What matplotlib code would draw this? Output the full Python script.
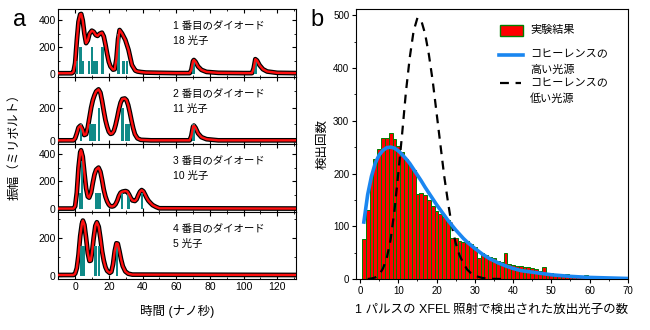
import matplotlib
matplotlib.use("Agg")
import matplotlib.pyplot as plt
from matplotlib.patches import Rectangle
from matplotlib.ticker import MultipleLocator

plt.rcParams["font.family"] = ["Liberation Sans", "Noto Sans CJK JP", "DejaVu Sans"]

# ---- panel a: diode traces (time ns, amplitude mV) ----
t1 = [-10, -2, -1, 0, 1, 2, 3, 3.6, 4.5, 5.5, 6.5, 7.5, 8.5, 9.9, 11, 12.3, 13.3, 14.5, 15.9, 17, 18, 19, 20, 21,
      22.5, 23.5, 24.5, 25.5, 26.4, 27.8, 29.8, 31.7, 33.7, 35.7, 37, 39, 42, 50, 60, 68, 69, 70, 70.5, 71.5, 73,
      75, 78, 85, 100, 105, 106, 107, 108, 109.5, 111.5, 114, 120, 131]
v1 = [5, 5, 15, 80, 250, 390, 445, 448, 400, 300, 230, 250, 300, 323, 315, 290, 284, 300, 308, 280, 220, 150, 90, 55,
      32, 35, 110, 260, 328, 303, 254, 180, 67, 25, 18, 14, 10, 8, 6, 6, 30, 95, 104, 90, 55,
      30, 15, 8, 6, 6, 40, 110, 100, 65, 35, 18, 8, 6]
t2 = [-10, -1, 0, 1, 2, 3.2, 4.3, 5.4, 6.5, 7.5, 8.5, 9.5, 10.5, 11.5, 12.5, 13.9, 15, 16, 17, 18, 19, 20, 21, 22,
      23, 24, 25, 26, 27, 28, 29.5, 30.5, 31.5, 32.5, 33.5, 34.5, 35.5, 37, 39, 45, 68, 69, 70, 70.5, 71.5, 73,
      75, 78, 85, 131]
v2 = [3, 3, 15, 45, 80, 92, 70, 35, 40, 80, 140, 200, 245, 275, 298, 310, 290, 240, 180, 125, 85, 55, 42, 45,
      60, 95, 140, 190, 230, 252, 255, 245, 215, 170, 120, 75, 40, 15, 6, 3, 3, 30, 85, 92, 78, 45,
      22, 10, 3, 3]
t3 = [-10, -1, 0, 1, 2, 3, 3.5, 4.5, 5.5, 6.5, 7.5, 8.3, 9.5, 10.5, 11.5, 12.5, 13.9, 15, 16, 17, 18, 19, 20, 21,
      22, 23, 24, 25, 26, 27, 28, 29, 30, 31, 32, 33, 34, 35.5, 36.5, 37.5, 38.5, 39.5, 40.5, 41.5, 42.5, 43.5,
      44.6, 46, 48, 50, 131]
v3 = [3, 3, 20, 120, 300, 410, 426, 380, 260, 150, 90, 82, 120, 190, 250, 285, 300, 270, 210, 140, 90, 55, 32, 20,
      18, 22, 35, 60, 95, 118, 125, 128, 130, 125, 105, 80, 62, 58, 70, 100, 125, 137, 128, 105, 80, 60,
      45, 28, 15, 5, 3]
t4 = [-10, -1, 0, 1, 2, 3, 4, 4.6, 5.5, 6.5, 7.5, 8.5, 9.3, 10, 11, 12, 12.9, 14, 15, 16, 17, 18, 19, 20.5, 21.5,
      22.5, 23.5, 24.5, 25.3, 26.3, 27.3, 28.3, 29.8, 31.5, 34, 131]
v4 = [3, 3, 10, 40, 110, 210, 275, 293, 270, 200, 120, 78, 80, 120, 200, 265, 284, 260, 200, 130, 80, 45, 25, 14, 20,
      60, 130, 172, 170, 130, 85, 50, 22, 10, 5, 3]

# photon arrival times and bar heights
p1_t = [1.0, 3.2, 4.7, 8.1, 10.1, 11.5, 12.8, 16.3, 25.8, 28.8, 30.8, 70.4, 107.0]
p1_h = [100, 200, 100, 100, 200, 100, 100, 200, 300, 100, 100, 100, 100]
p2_t = [3.6, 9.0, 10.3, 11.8, 14.2, 28.0, 30.2, 31.8, 70.4]
p2_h = [100, 100, 100, 100, 200, 200, 100, 100, 100]
p3_t = [2.9, 4.2, 12.3, 13.9, 14.9, 27.8, 31.7, 39.7]
p3_h = [115, 345, 115, 115, 115, 115, 115, 115]
p4_t = [3.9, 5.1, 12.0, 14.2, 24.9]
p4_h = [160, 160, 160, 160, 160]

diode_labels = ["1 番目のダイオード\n18 光子", "2 番目のダイオード\n11 光子",
                "3 番目のダイオード\n10 光子", "4 番目のダイオード\n5 光子"]
ylims = [(-20, 485), (-20, 387), (-20, 470), (-20, 340)]
yticks = [[0, 200, 400], [0, 200], [0, 200, 400], [0, 200]]

# ---- panel b: photon count histogram ----
n_photons = list(range(1, 70))
counts = [75, 130, 195, 228, 247, 268, 268, 276, 265, 253, 241, 228, 216, 206, 162, 163, 160, 150, 139, 129,
          123, 118, 112, 78, 78, 72, 71, 72, 66, 60, 39, 50, 45, 42, 39, 35, 33, 49, 28, 27,
          25, 24, 22, 22, 21, 19, 16, 22, 12, 11, 9, 8, 8, 10, 8, 6, 5, 5, 7, 5,
          4, 1, 1, 1, 1, 1, 1, 3, 1]
high_x = [1, 2, 3, 4, 5, 6, 7, 8, 9, 10, 11, 12, 13, 14, 15, 16, 17, 18, 19, 20, 21, 22, 23, 24, 25, 26, 27,
          28, 29, 30, 32, 34, 36, 38, 40, 42, 44, 46, 48, 50, 55, 60, 65, 70]
high_y = [108, 160, 195, 220, 235, 244, 249, 250, 248, 243, 236, 228, 219, 208, 197, 186, 174, 163, 152, 141,
          131, 121, 111, 102, 93, 85, 77, 70, 64, 58, 47, 38, 31, 25, 20, 16, 14, 12, 10, 8, 5, 3, 2, 1]
low_x = [2, 3, 4, 5, 6, 7, 8, 9, 10, 11, 12, 13, 14, 15, 16, 17, 18, 19, 20, 21, 22, 23, 24, 25, 26, 27,
         28, 29, 30, 31, 32, 33, 34, 37]
low_y = [0, 1, 3, 8, 20, 40, 75, 130, 200, 275, 355, 420, 470, 495, 490, 465, 425, 375, 315, 255, 195, 145, 100,
         68, 45, 30, 18, 11, 6, 4, 2, 1, 0.5, 0]

traces = [(t1, v1, p1_t, p1_h), (t2, v2, p2_t, p2_h), (t3, v3, p3_t, p3_h), (t4, v4, p4_t, p4_h)]

RED = "#ff1010"
TEAL = "#108a88"
BLUE = "#1a86f0"
DASH = (0, (4, 3))

fig = plt.figure(figsize=(6.5, 3.3), dpi=100)

left, right, top, bottom = 0.0897, 0.455, 0.9727, 0.1536
h = (top - bottom) / 4
for i, (tt, vv, pt, ph) in enumerate(traces):
    ax = fig.add_axes([left, top - (i + 1) * h, right - left, h])
    ax.plot(tt, vv, color="black", lw=3.4, zorder=1, solid_joinstyle="round")
    ax.bar(pt, ph, width=1.5, color=TEAL, zorder=2)
    ax.plot(tt, vv, color=RED, lw=1.7, zorder=3)
    ax.set_xlim(-10, 131)
    ax.set_ylim(*ylims[i])
    ax.set_yticks(yticks[i])
    ax.xaxis.set_major_locator(MultipleLocator(20))
    ax.xaxis.set_minor_locator(MultipleLocator(10))
    ax.yaxis.set_minor_locator(MultipleLocator(100))
    ax.tick_params(which="both", direction="in", top=True, right=True, labelsize=7.5, length=3, pad=2)
    ax.tick_params(which="minor", length=1.5)
    if i < 3:
        ax.tick_params(labelbottom=False)
    ax.text(0.483, 0.82, diode_labels[i], transform=ax.transAxes, fontsize=7.5, va="top",
            linespacing=1.6)

fig.text(0.023, 0.563, "振幅（ミリボルト）", rotation=90, ha="center", va="center", fontsize=9)
fig.text(0.272, 0.055, "時間 (ナノ秒)", ha="center", va="center", fontsize=9)
fig.text(0.03, 0.94, "a", ha="center", va="center", fontsize=17)

axb = fig.add_axes([0.548, 0.1545, 0.418, 0.8185])
axb.bar(n_photons, counts, width=1.0, color="#ff0000", edgecolor="#008000", linewidth=0.7, zorder=1)
axb.plot(high_x, high_y, color=BLUE, lw=2.6, zorder=3)
axb.plot(low_x, low_y, color="black", lw=1.6, ls=DASH, zorder=2)
axb.set_xlim(-1, 70)
axb.set_ylim(0, 512)
axb.xaxis.set_major_locator(MultipleLocator(10))
axb.xaxis.set_minor_locator(MultipleLocator(5))
axb.yaxis.set_major_locator(MultipleLocator(100))
axb.yaxis.set_minor_locator(MultipleLocator(50))
axb.tick_params(which="both", direction="out", labelsize=7, length=3, pad=2)
axb.tick_params(which="minor", length=1.5)
axb.set_ylabel("検出回数", fontsize=9, labelpad=3)
axb.set_xlabel("1 パルスの XFEL 照射で検出された放出光子の数", fontsize=9, labelpad=6)
fig.text(0.487, 0.94, "b", ha="center", va="center", fontsize=17)

# legend drawn by hand so the handle sits on the first text line
tr = axb.transAxes
axb.add_patch(Rectangle((0.529, 0.898), 0.085, 0.042, transform=tr, facecolor="#ff0000",
                        edgecolor="#008000", linewidth=1.0, clip_on=False))
axb.plot([0.526, 0.614], [0.830, 0.830], transform=tr, color=BLUE, lw=2.6)
axb.plot([0.529, 0.608], [0.726, 0.726], transform=tr, color="black", lw=1.6, ls=DASH)
legend_lines = [("実験結果", 0.921), ("コヒーレンスの", 0.833), ("高い光源", 0.776),
                ("コヒーレンスの", 0.725), ("低い光源", 0.666)]
for txt, y in legend_lines:
    axb.text(0.64, y, txt, transform=tr, fontsize=8, va="center", ha="left")

fig.savefig("out.png", dpi=100)
